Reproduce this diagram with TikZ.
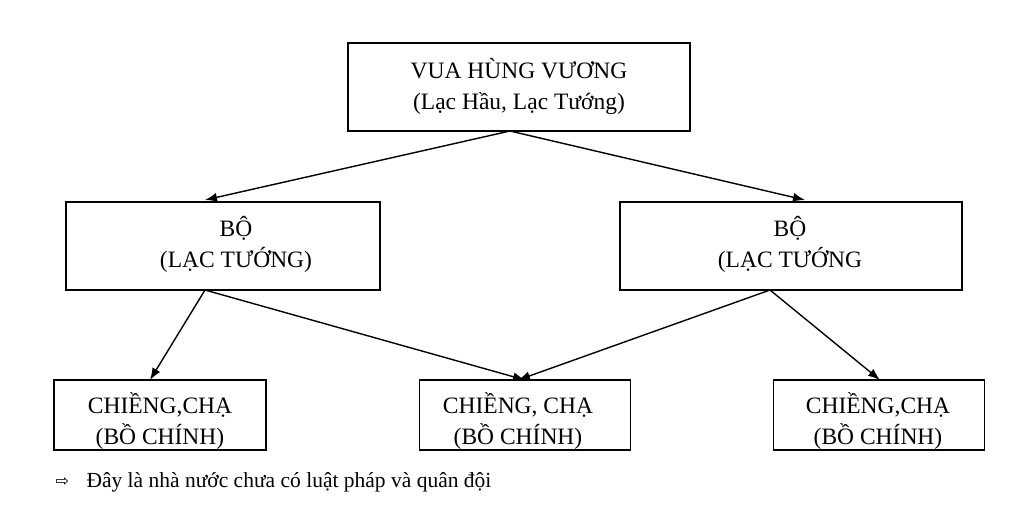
\documentclass[tikz,border=0pt]{standalone}
\usepackage{fontspec}
\setmainfont{Liberation Serif}
\newfontfamily\symf{DejaVu Sans}
\usetikzlibrary{arrows.meta}
\begin{document}
\begin{tikzpicture}[x=1pt,y=-1pt,
  box/.style={draw,line width=1.2pt,inner sep=0pt},
  lbl/.style={font=\fontsize{23.5}{31}\selectfont,align=center},
  arr/.style={-{Latex[length=12pt,width=9pt]},line width=1.4pt}]
\useasboundingbox (0,0) rectangle (1024,504);
\node[box,minimum width=342pt,minimum height=88pt] (top) at (519,87) {};
\node[lbl] at (519,86) {VUA HÙNG VƯƠNG\\(Lạc Hầu, Lạc Tướng)};
\node[box,minimum width=314pt,minimum height=88pt] (ml) at (223,246) {};
\node[lbl] at (236,244) {BỘ\\(LẠC TƯỚNG)};
\node[box,minimum width=342pt,minimum height=88pt] (mr) at (791,246) {};
\node[lbl] at (790,244) {BỘ\\(LẠC TƯỚNG};
\node[box,minimum width=212pt,minimum height=70pt] (bl) at (160,415) {};
\node[lbl] at (160,421) {CHIỀNG,CHẠ\\(BỒ CHÍNH)};
\node[box,minimum width=211pt,minimum height=70pt] (bm) at (525,415) {};
\node[lbl] at (518,421) {CHIỀNG, CHẠ\\(BỒ CHÍNH)};
\node[box,minimum width=211pt,minimum height=70pt] (br) at (879,415) {};
\node[lbl] at (878,421) {CHIỀNG,CHẠ\\(BỒ CHÍNH)};
\node[anchor=west,font=\fontsize{16}{20}\selectfont] (sym) at (52,482) {\symf ⇨};
\node[anchor=west,font=\fontsize{21.5}{24}\selectfont] (note) at (83,482) {Đây là nhà nước chưa có luật pháp và quân đội};
\draw[arr] (510,131) -- (205,200);
\draw[arr] (510,131) -- (805,200);
\draw[arr] (205,290) -- (150,380);
\draw[arr] (205,290) -- (525,380);
\draw[arr] (770,290) -- (518,380);
\draw[arr] (770,290) -- (880,380);
\end{tikzpicture}
\end{document}
